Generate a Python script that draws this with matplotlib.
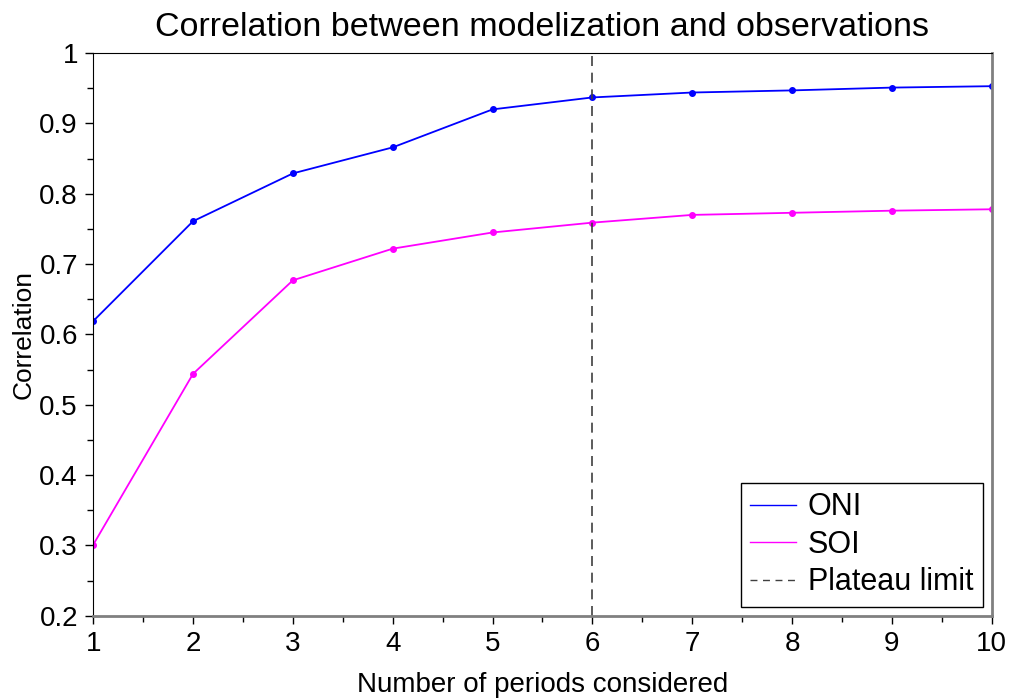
import matplotlib

matplotlib.use("Agg")
import matplotlib.pyplot as plt
from matplotlib.lines import Line2D
from matplotlib.ticker import MultipleLocator

plt.rcParams["font.family"] = ["Liberation Sans", "DejaVu Sans"]

periods = [1, 2, 3, 4, 5, 6, 7, 8, 9, 10]
oni = [0.619, 0.761, 0.829, 0.866, 0.920, 0.937, 0.944, 0.947, 0.951, 0.953]
soi = [0.301, 0.544, 0.677, 0.722, 0.745, 0.759, 0.770, 0.773, 0.776, 0.778]
plateau = 6

fig = plt.figure(figsize=(10.13, 6.99), dpi=100)
ax = fig.add_axes([0.092, 0.119, 0.887, 0.805])

ax.plot(periods, oni, color="#0000ff", lw=1.3, marker="o", ms=4)
ax.plot(periods, soi, color="#ff00ff", lw=1.3, marker="o", ms=4)
ax.axvline(plateau, color="#404040", lw=1.2, ls=(0, (6, 4)))

ax.set_xlim(1, 10)
ax.set_ylim(0.2, 1.0)
ax.xaxis.set_major_locator(MultipleLocator(1))
ax.xaxis.set_minor_locator(MultipleLocator(0.5))
ax.yaxis.set_minor_locator(MultipleLocator(0.05))
ax.set_yticks([0.2, 0.3, 0.4, 0.5, 0.6, 0.7, 0.8, 0.9, 1.0],
              ["0.2", "0.3", "0.4", "0.5", "0.6", "0.7", "0.8", "0.9", "1"])
ax.tick_params(which="major", direction="out", length=6, labelsize=20, width=1, pad=5)
ax.tick_params(which="minor", direction="out", length=4, width=1)

ax.spines["left"].set_color("black")
ax.spines["top"].set_color("black")
ax.spines["bottom"].set_color("#808080")
ax.spines["right"].set_color("#808080")
ax.spines["bottom"].set_linewidth(2)
ax.spines["right"].set_linewidth(2)

ax.set_xlabel("Number of periods considered", fontsize=20, labelpad=11)
ax.set_ylabel("Correlation", fontsize=19, labelpad=3)
ax.set_title("Correlation between modelization and observations", fontsize=24.5, pad=12)

handles = [
    Line2D([], [], color="#0000ff", lw=1, label="ONI"),
    Line2D([], [], color="#ff00ff", lw=1, label="SOI"),
    Line2D([], [], color="#404040", lw=1, ls=(0, (5, 4)), label="Plateau limit"),
]
leg = ax.legend(handles=handles, loc="lower right", fontsize=22, fancybox=False,
                framealpha=1, edgecolor="black", handlelength=1.5, borderaxespad=0.3,
                labelspacing=0.25, handletextpad=0.4, borderpad=0.3)
leg.get_frame().set_linewidth(1)

fig.savefig("out.png", dpi=100)
